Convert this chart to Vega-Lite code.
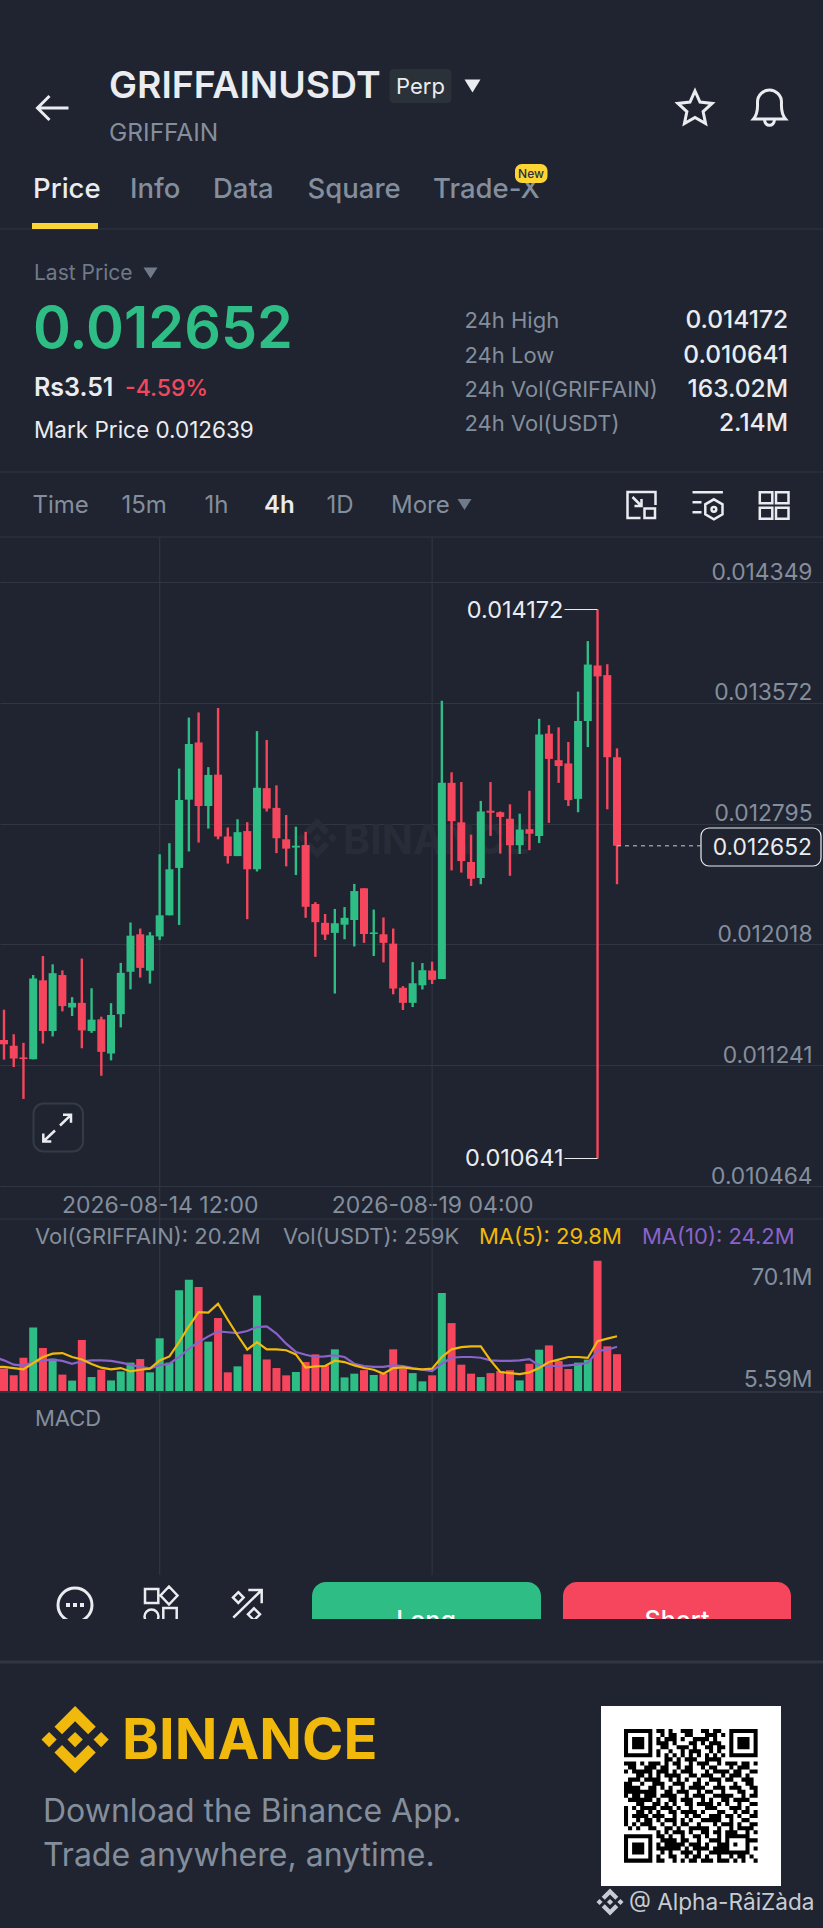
{
  "$schema": "https://vega.github.io/schema/vega-lite/v6.json",
  "width": 823,
  "height": 1928,
  "autosize": {"type": "none"},
  "padding": 0,
  "background": "#1f2430",
  "config": {
    "view": {"stroke": null},
    "axis": {"disable": true},
    "text": {"font": "Inter", "align": "left", "baseline": "alphabetic"}
  },
  "datasets": {
    "candles": [
      {"t":"2026-08-11T16:00:00Z","o":0.011403,"h":0.011598,"l":0.011277,"c":0.011376,"v":10.0,"ma5":13.4,"ma10":18.7},
      {"t":"2026-08-11T20:00:00Z","o":0.011403,"h":0.011598,"l":0.011277,"c":0.011376,"v":12.5,"ma5":13.4,"ma10":16.9},
      {"t":"2026-08-12T00:00:00Z","o":0.011366,"h":0.01144,"l":0.011229,"c":0.011284,"v":8.9,"ma5":12.8,"ma10":14.6},
      {"t":"2026-08-12T04:00:00Z","o":0.011291,"h":0.011385,"l":0.011024,"c":0.011281,"v":18.3,"ma5":12.1,"ma10":14.1},
      {"t":"2026-08-12T08:00:00Z","o":0.011279,"h":0.011821,"l":0.011279,"c":0.011798,"v":34.5,"ma5":15.5,"ma10":16.0},
      {"t":"2026-08-12T12:00:00Z","o":0.011787,"h":0.011943,"l":0.01138,"c":0.011461,"v":23.5,"ma5":18.7,"ma10":16.9},
      {"t":"2026-08-12T16:00:00Z","o":0.011461,"h":0.01189,"l":0.011426,"c":0.011833,"v":17.8,"ma5":20.5,"ma10":17.3},
      {"t":"2026-08-12T20:00:00Z","o":0.011821,"h":0.011851,"l":0.011587,"c":0.011621,"v":9.3,"ma5":20.8,"ma10":16.6},
      {"t":"2026-08-13T00:00:00Z","o":0.011612,"h":0.011679,"l":0.011557,"c":0.011642,"v":6.1,"ma5":18.7,"ma10":15.1},
      {"t":"2026-08-13T04:00:00Z","o":0.011642,"h":0.011927,"l":0.01135,"c":0.011465,"v":27.8,"ma5":17.4,"ma10":16.4},
      {"t":"2026-08-13T08:00:00Z","o":0.011461,"h":0.011736,"l":0.011449,"c":0.011534,"v":8.0,"ma5":15.0,"ma10":16.9},
      {"t":"2026-08-13T12:00:00Z","o":0.011536,"h":0.011553,"l":0.011173,"c":0.011327,"v":11.9,"ma5":13.0,"ma10":16.9},
      {"t":"2026-08-13T16:00:00Z","o":0.011316,"h":0.01164,"l":0.011272,"c":0.011564,"v":6.2,"ma5":12.1,"ma10":16.6},
      {"t":"2026-08-13T20:00:00Z","o":0.011569,"h":0.011899,"l":0.011484,"c":0.011835,"v":11.0,"ma5":12.8,"ma10":15.7},
      {"t":"2026-08-14T00:00:00Z","o":0.011842,"h":0.012159,"l":0.011729,"c":0.012074,"v":15.7,"ma5":11.0,"ma10":14.6},
      {"t":"2026-08-14T04:00:00Z","o":0.012083,"h":0.01212,"l":0.011805,"c":0.011867,"v":17.6,"ma5":11.9,"ma10":13.4},
      {"t":"2026-08-14T08:00:00Z","o":0.011849,"h":0.012097,"l":0.011766,"c":0.012076,"v":10.5,"ma5":12.5,"ma10":12.6},
      {"t":"2026-08-14T12:00:00Z","o":0.012069,"h":0.012598,"l":0.012046,"c":0.012205,"v":28.7,"ma5":16.9,"ma10":14.2},
      {"t":"2026-08-14T16:00:00Z","o":0.012205,"h":0.012669,"l":0.012205,"c":0.012501,"v":15.7,"ma5":19.0,"ma10":15.1},
      {"t":"2026-08-14T20:00:00Z","o":0.01251,"h":0.013149,"l":0.012143,"c":0.012947,"v":54.3,"ma5":26.7,"ma10":18.7},
      {"t":"2026-08-15T00:00:00Z","o":0.012949,"h":0.013477,"l":0.012616,"c":0.013307,"v":60.0,"ma5":35.1,"ma10":23.1},
      {"t":"2026-08-15T04:00:00Z","o":0.013317,"h":0.01351,"l":0.012673,"c":0.012908,"v":56.1,"ma5":42.7,"ma10":26.7},
      {"t":"2026-08-15T08:00:00Z","o":0.012908,"h":0.013158,"l":0.012763,"c":0.013108,"v":26.9,"ma5":42.4,"ma10":29.7},
      {"t":"2026-08-15T12:00:00Z","o":0.01311,"h":0.013539,"l":0.012694,"c":0.012712,"v":39.5,"ma5":47.2,"ma10":32.4},
      {"t":"2026-08-15T16:00:00Z","o":0.012712,"h":0.01277,"l":0.012538,"c":0.012586,"v":10.5,"ma5":38.6,"ma10":31.9},
      {"t":"2026-08-15T20:00:00Z","o":0.012586,"h":0.012823,"l":0.012586,"c":0.01274,"v":13.7,"ma5":30.3,"ma10":31.5},
      {"t":"2026-08-16T00:00:00Z","o":0.012747,"h":0.012804,"l":0.01218,"c":0.012501,"v":20.1,"ma5":22.6,"ma10":32.6},
      {"t":"2026-08-16T04:00:00Z","o":0.012501,"h":0.01339,"l":0.012487,"c":0.013025,"v":51.6,"ma5":26.7,"ma10":34.7},
      {"t":"2026-08-16T08:00:00Z","o":0.013023,"h":0.013333,"l":0.012873,"c":0.012892,"v":17.4,"ma5":22.8,"ma10":35.1},
      {"t":"2026-08-16T12:00:00Z","o":0.012896,"h":0.013041,"l":0.012605,"c":0.012701,"v":12.8,"ma5":22.8,"ma10":31.2},
      {"t":"2026-08-16T16:00:00Z","o":0.012694,"h":0.01285,"l":0.01252,"c":0.012634,"v":8.9,"ma5":22.3,"ma10":25.8},
      {"t":"2026-08-16T20:00:00Z","o":0.012641,"h":0.012775,"l":0.012464,"c":0.012653,"v":10.7,"ma5":20.1,"ma10":21.4},
      {"t":"2026-08-17T00:00:00Z","o":0.012657,"h":0.012742,"l":0.012189,"c":0.01226,"v":16.0,"ma5":13.0,"ma10":19.9},
      {"t":"2026-08-17T04:00:00Z","o":0.012278,"h":0.01229,"l":0.011938,"c":0.012161,"v":20.1,"ma5":13.7,"ma10":18.7},
      {"t":"2026-08-17T08:00:00Z","o":0.012157,"h":0.012214,"l":0.012046,"c":0.012081,"v":14.2,"ma5":13.9,"ma10":19.0},
      {"t":"2026-08-17T12:00:00Z","o":0.012092,"h":0.012246,"l":0.011702,"c":0.012154,"v":22.8,"ma5":16.7,"ma10":19.6},
      {"t":"2026-08-17T16:00:00Z","o":0.012145,"h":0.012258,"l":0.012051,"c":0.012189,"v":7.8,"ma5":16.0,"ma10":18.7},
      {"t":"2026-08-17T20:00:00Z","o":0.012175,"h":0.012407,"l":0.012005,"c":0.012361,"v":9.8,"ma5":14.2,"ma10":15.1},
      {"t":"2026-08-18T00:00:00Z","o":0.012379,"h":0.012379,"l":0.012028,"c":0.012085,"v":11.7,"ma5":12.8,"ma10":13.9},
      {"t":"2026-08-18T04:00:00Z","o":0.012085,"h":0.012242,"l":0.011943,"c":0.012095,"v":9.1,"ma5":11.9,"ma10":13.4},
      {"t":"2026-08-18T08:00:00Z","o":0.012083,"h":0.012191,"l":0.011902,"c":0.012028,"v":9.8,"ma5":9.8,"ma10":13.4},
      {"t":"2026-08-18T12:00:00Z","o":0.012023,"h":0.01212,"l":0.011697,"c":0.011734,"v":22.8,"ma5":12.8,"ma10":14.2},
      {"t":"2026-08-18T16:00:00Z","o":0.011739,"h":0.01175,"l":0.011596,"c":0.011642,"v":12.5,"ma5":13.2,"ma10":13.9},
      {"t":"2026-08-18T20:00:00Z","o":0.011642,"h":0.011904,"l":0.011615,"c":0.011768,"v":10.1,"ma5":12.5,"ma10":12.8},
      {"t":"2026-08-19T00:00:00Z","o":0.011755,"h":0.011898,"l":0.011728,"c":0.011852,"v":5.7,"ma5":12.1,"ma10":11.9},
      {"t":"2026-08-19T04:00:00Z","o":0.01185,"h":0.011907,"l":0.011763,"c":0.01179,"v":8.9,"ma5":12.5,"ma10":11.2},
      {"t":"2026-08-19T08:00:00Z","o":0.011796,"h":0.013585,"l":0.011796,"c":0.013057,"v":52.9,"ma5":18.7,"ma10":15.1},
      {"t":"2026-08-19T12:00:00Z","o":0.013057,"h":0.013125,"l":0.012494,"c":0.012811,"v":36.8,"ma5":22.8,"ma10":18.3},
      {"t":"2026-08-19T16:00:00Z","o":0.012803,"h":0.013062,"l":0.01248,"c":0.012554,"v":14.6,"ma5":24.0,"ma10":18.7},
      {"t":"2026-08-19T20:00:00Z","o":0.012548,"h":0.012724,"l":0.012394,"c":0.01244,"v":9.8,"ma5":24.4,"ma10":18.7},
      {"t":"2026-08-20T00:00:00Z","o":0.012445,"h":0.012941,"l":0.012405,"c":0.012873,"v":8.0,"ma5":24.4,"ma10":18.3},
      {"t":"2026-08-20T04:00:00Z","o":0.012878,"h":0.013062,"l":0.012716,"c":0.012865,"v":10.1,"ma5":16.9,"ma10":16.9},
      {"t":"2026-08-20T08:00:00Z","o":0.012868,"h":0.012873,"l":0.012602,"c":0.012838,"v":11.2,"ma5":10.7,"ma10":16.6},
      {"t":"2026-08-20T12:00:00Z","o":0.012827,"h":0.012919,"l":0.012459,"c":0.012656,"v":11.6,"ma5":10.1,"ma10":16.6},
      {"t":"2026-08-20T16:00:00Z","o":0.012656,"h":0.012859,"l":0.0126,"c":0.012757,"v":6.2,"ma5":9.6,"ma10":16.9},
      {"t":"2026-08-20T20:00:00Z","o":0.012759,"h":0.013006,"l":0.012624,"c":0.01273,"v":15.1,"ma5":10.5,"ma10":17.6},
      {"t":"2026-08-21T00:00:00Z","o":0.012716,"h":0.013469,"l":0.01267,"c":0.013368,"v":22.6,"ma5":12.8,"ma10":14.2},
      {"t":"2026-08-21T04:00:00Z","o":0.013374,"h":0.013428,"l":0.0128,"c":0.013211,"v":24.9,"ma5":16.0,"ma10":13.9},
      {"t":"2026-08-21T08:00:00Z","o":0.013203,"h":0.013414,"l":0.013057,"c":0.013165,"v":16.6,"ma5":17.3,"ma10":13.9},
      {"t":"2026-08-21T12:00:00Z","o":0.013182,"h":0.01332,"l":0.012908,"c":0.012946,"v":12.3,"ma5":18.7,"ma10":14.2},
      {"t":"2026-08-21T16:00:00Z","o":0.012954,"h":0.013644,"l":0.012868,"c":0.013455,"v":15.7,"ma5":18.7,"ma10":14.8},
      {"t":"2026-08-21T20:00:00Z","o":0.013455,"h":0.013969,"l":0.013287,"c":0.013818,"v":17.3,"ma5":18.2,"ma10":15.5},
      {"t":"2026-08-22T00:00:00Z","o":0.013812,"h":0.014172,"l":0.010641,"c":0.013742,"v":70.1,"ma5":27.2,"ma10":21.9},
      {"t":"2026-08-22T04:00:00Z","o":0.01375,"h":0.01382,"l":0.012887,"c":0.013222,"v":24.4,"ma5":28.5,"ma10":22.6},
      {"t":"2026-08-22T08:00:00Z","o":0.013222,"h":0.013279,"l":0.012405,"c":0.012652,"v":20.2,"ma5":29.8,"ma10":24.2}
    ],
    "extremes": [
      {"from":"2026-08-21T10:24:00Z","to":"2026-08-22T00:00:00Z","price":0.014172,"label":"0.014172"},
      {"from":"2026-08-21T10:24:00Z","to":"2026-08-22T00:00:00Z","price":0.010641,"label":"0.010641"}
    ],
    "last": [
      {"from":"2026-08-22T08:00:00Z","to":"2026-08-23T18:31:00Z","price":0.012652}
    ],
    "vlines": [
      {"t":"2026-08-14T12:00:00Z"},
      {"t":"2026-08-19T04:00:00Z"}
    ]
  },
  "resolve": {
    "scale": {"x": "independent", "y": "independent"},
    "axis": {"x": "independent", "y": "independent"}
  },
  "layer": [
    {
      "data": {"name": "vlines"},
      "mark": {"type": "rule", "color": "#2f3541", "strokeWidth": 1.2},
      "encoding": {
        "x": {"field": "t", "type": "temporal", "scale": {"type": "utc", "domain": ["2026-08-11T18:21:22Z", "2026-08-25T20:41:00Z"]}},
        "y": {"datum": 537, "type": "quantitative", "scale": {"domain": [0, 1928], "reverse": true, "nice": false}},
        "y2": {"datum": 1575}
      }
    },
    {
      "data": {"name": "candles"},
      "mark": {"type": "rule", "opacity": 0},
      "encoding": {
        "y": {
          "field": "h",
          "type": "quantitative",
          "scale": {"domain": [0.0056914, 0.0180925], "nice": false},
          "axis": {
            "disable": false,
            "orient": "right",
            "title": null,
            "values": [0.014349, 0.013572, 0.012795, 0.012018, 0.011241, 0.010464],
            "format": ".6f",
            "labelFont": "Inter",
            "labelFontSize": 22.8,
            "labelColor": "#848e9c",
            "labelAlign": "right",
            "labelBaseline": "alphabetic",
            "labelPadding": -11,
            "labelOffset": -3,
            "labelOverlap": false,
            "labelBound": false,
            "labelFlush": false,
            "domain": false,
            "ticks": false,
            "tickSize": 0,
            "grid": true,
            "gridColor": "#2f3541",
            "gridWidth": 1.2
          }
        }
      }
    },
    {
      "data": {"name": "candles"},
      "mark": {"type": "rule", "opacity": 0},
      "encoding": {
        "y": {
          "field": "v",
          "type": "quantitative",
          "scale": {"domain": [-286.2, 743.3], "nice": false},
          "axis": {
            "disable": false,
            "orient": "right",
            "title": null,
            "values": [70.1, 5.59],
            "labelExpr": "datum.value > 50 ? '70.1M' : '5.59M'",
            "labelFont": "Inter",
            "labelFontSize": 23,
            "labelColor": "#848e9c",
            "labelAlign": "right",
            "labelBaseline": "alphabetic",
            "labelPadding": -11,
            "labelOffset": {"condition": {"test": "datum.value > 50", "value": 24}, "value": 4.5},
            "labelOverlap": false,
            "labelBound": false,
            "labelFlush": false,
            "domain": false,
            "ticks": false,
            "tickSize": 0,
            "grid": false
          }
        }
      }
    },
    {
      "data": {"values": [{}]},
      "layer": [
        {"mark": {"type": "rule", "color": "#2b303b", "strokeWidth": 1.5}, "encoding": {
          "x": {"datum": 0, "type": "quantitative", "scale": {"domain": [0, 823], "nice": false}},
          "x2": {"datum": 823},
          "y": {"datum": 229, "type": "quantitative", "scale": {"domain": [0, 1928], "reverse": true, "nice": false}}}},
        {"mark": {"type": "rule", "color": "#2b303b", "strokeWidth": 1.5}, "encoding": {"x": {"datum": 0}, "x2": {"datum": 823}, "y": {"datum": 472}}},
        {"mark": {"type": "rule", "color": "#2b303b", "strokeWidth": 1.5}, "encoding": {"x": {"datum": 0}, "x2": {"datum": 823}, "y": {"datum": 537}}},
        {"mark": {"type": "rule", "color": "#2f3541", "strokeWidth": 1.2}, "encoding": {"x": {"datum": 0}, "x2": {"datum": 823}, "y": {"datum": 1219}}},

        {"mark": {"type": "point", "shape": "M16 0H-15M-3 -12L-15 0L-3 12", "size": 4, "filled": false, "stroke": "#eaecef", "strokeWidth": 3, "opacity": 1}, "encoding": {"x": {"datum": 52.5}, "y": {"datum": 108}}},
        {"mark": {"type": "text", "fontSize": 37.4, "fontWeight": 600, "color": "#eaecef"}, "encoding": {"x": {"datum": 109}, "y": {"datum": 98}, "text": {"datum": "GRIFFAINUSDT"}}},
        {"mark": {"type": "rect", "fill": "#2b3139", "cornerRadius": 4}, "encoding": {"x": {"datum": 389.5}, "x2": {"datum": 451.5}, "y": {"datum": 69}, "y2": {"datum": 103}}},
        {"mark": {"type": "text", "fontSize": 22, "color": "#eaecef", "align": "center"}, "encoding": {"x": {"datum": 420.5}, "y": {"datum": 94}, "text": {"datum": "Perp"}}},
        {"mark": {"type": "point", "shape": "M-8 -6H8L0 7Z", "size": 4, "filled": true, "color": "#eaecef", "opacity": 1}, "encoding": {"x": {"datum": 472.5}, "y": {"datum": 85.5}}},
        {"mark": {"type": "text", "fontSize": 24.5, "color": "#848e9c"}, "encoding": {"x": {"datum": 109}, "y": {"datum": 140.5}, "text": {"datum": "GRIFFAIN"}}},
        {"mark": {"type": "point", "shape": "M0 -18L5 -6.9L17.1 -5.6L8.1 2.6L10.6 14.6L0 8.5L-10.6 14.6L-8.1 2.6L-17.1 -5.6L-5 -6.9Z", "size": 4, "filled": false, "stroke": "#eaecef", "strokeWidth": 3, "opacity": 1}, "encoding": {"x": {"datum": 695}, "y": {"datum": 109}}},
        {"mark": {"type": "point", "shape": "M-16 12C-11 6 -12 0 -12 -5C-12 -12 -6 -17 0 -17C6 -17 12 -12 12 -5C12 0 11 6 16 12ZM-5 13C-4 20 4 20 5 13", "size": 4, "filled": false, "stroke": "#eaecef", "strokeWidth": 3, "opacity": 1}, "encoding": {"x": {"datum": 769.5}, "y": {"datum": 107}}},

        {"mark": {"type": "text", "fontSize": 27.5, "fontWeight": 500, "color": "#eaecef"}, "encoding": {"x": {"datum": 33}, "y": {"datum": 197.5}, "text": {"datum": "Price"}}},
        {"mark": {"type": "text", "fontSize": 27.5, "fontWeight": 500, "color": "#848e9c"}, "encoding": {"x": {"datum": 130}, "y": {"datum": 197.5}, "text": {"datum": "Info"}}},
        {"mark": {"type": "text", "fontSize": 27.5, "fontWeight": 500, "color": "#848e9c"}, "encoding": {"x": {"datum": 213}, "y": {"datum": 197.5}, "text": {"datum": "Data"}}},
        {"mark": {"type": "text", "fontSize": 27.5, "fontWeight": 500, "color": "#848e9c"}, "encoding": {"x": {"datum": 307.5}, "y": {"datum": 197.5}, "text": {"datum": "Square"}}},
        {"mark": {"type": "text", "fontSize": 27.5, "fontWeight": 500, "color": "#848e9c"}, "encoding": {"x": {"datum": 433}, "y": {"datum": 197.5}, "text": {"datum": "Trade-X"}}},
        {"mark": {"type": "rect", "fill": "#fcd535", "cornerRadius": 7}, "encoding": {"x": {"datum": 515}, "x2": {"datum": 547.5}, "y": {"datum": 164}, "y2": {"datum": 183}}},
        {"mark": {"type": "text", "fontSize": 12, "fontWeight": 500, "color": "#2b2f36", "align": "center"}, "encoding": {"x": {"datum": 531}, "y": {"datum": 178}, "text": {"datum": "New"}}},
        {"mark": {"type": "rect", "fill": "#fcd535"}, "encoding": {"x": {"datum": 32}, "x2": {"datum": 98}, "y": {"datum": 223}, "y2": {"datum": 229}}},

        {"mark": {"type": "text", "fontSize": 21, "color": "#707a8a"}, "encoding": {"x": {"datum": 34}, "y": {"datum": 280}, "text": {"datum": "Last Price"}}},
        {"mark": {"type": "point", "shape": "M-7 -5H7L0 6Z", "size": 4, "filled": true, "color": "#707a8a", "opacity": 1}, "encoding": {"x": {"datum": 150.5}, "y": {"datum": 272.5}}},
        {"mark": {"type": "text", "fontSize": 57.5, "fontWeight": 600, "color": "#2ebd85"}, "encoding": {"x": {"datum": 33}, "y": {"datum": 348}, "text": {"datum": "0.012652"}}},
        {"mark": {"type": "text", "fontSize": 25, "fontWeight": 600, "color": "#eaecef"}, "encoding": {"x": {"datum": 34}, "y": {"datum": 396}, "text": {"datum": "Rs3.51"}}},
        {"mark": {"type": "text", "fontSize": 23, "fontWeight": 500, "color": "#f6465d"}, "encoding": {"x": {"datum": 125}, "y": {"datum": 396}, "text": {"datum": "-4.59%"}}},
        {"mark": {"type": "text", "fontSize": 22.5, "color": "#eaecef"}, "encoding": {"x": {"datum": 34}, "y": {"datum": 437.5}, "text": {"datum": "Mark Price 0.012639"}}},

        {"mark": {"type": "text", "fontSize": 22, "color": "#848e9c"}, "encoding": {"x": {"datum": 464.5}, "y": {"datum": 328}, "text": {"datum": "24h High"}}},
        {"mark": {"type": "text", "fontSize": 22, "color": "#848e9c"}, "encoding": {"x": {"datum": 464.5}, "y": {"datum": 362.5}, "text": {"datum": "24h Low"}}},
        {"mark": {"type": "text", "fontSize": 22, "color": "#848e9c"}, "encoding": {"x": {"datum": 464.5}, "y": {"datum": 397}, "text": {"datum": "24h Vol(GRIFFAIN)"}}},
        {"mark": {"type": "text", "fontSize": 22, "color": "#848e9c"}, "encoding": {"x": {"datum": 464.5}, "y": {"datum": 431}, "text": {"datum": "24h Vol(USDT)"}}},
        {"mark": {"type": "text", "fontSize": 24.5, "fontWeight": 500, "color": "#eaecef", "align": "right"}, "encoding": {"x": {"datum": 788}, "y": {"datum": 328}, "text": {"datum": "0.014172"}}},
        {"mark": {"type": "text", "fontSize": 24.5, "fontWeight": 500, "color": "#eaecef", "align": "right"}, "encoding": {"x": {"datum": 788}, "y": {"datum": 362.5}, "text": {"datum": "0.010641"}}},
        {"mark": {"type": "text", "fontSize": 24.5, "fontWeight": 500, "color": "#eaecef", "align": "right"}, "encoding": {"x": {"datum": 788}, "y": {"datum": 397}, "text": {"datum": "163.02M"}}},
        {"mark": {"type": "text", "fontSize": 24.5, "fontWeight": 500, "color": "#eaecef", "align": "right"}, "encoding": {"x": {"datum": 788}, "y": {"datum": 431}, "text": {"datum": "2.14M"}}},

        {"mark": {"type": "text", "fontSize": 24, "color": "#848e9c"}, "encoding": {"x": {"datum": 32.5}, "y": {"datum": 513}, "text": {"datum": "Time"}}},
        {"mark": {"type": "text", "fontSize": 24, "color": "#848e9c"}, "encoding": {"x": {"datum": 121.5}, "y": {"datum": 513}, "text": {"datum": "15m"}}},
        {"mark": {"type": "text", "fontSize": 24, "color": "#848e9c"}, "encoding": {"x": {"datum": 204.5}, "y": {"datum": 513}, "text": {"datum": "1h"}}},
        {"mark": {"type": "text", "fontSize": 24, "fontWeight": 600, "color": "#eaecef"}, "encoding": {"x": {"datum": 264}, "y": {"datum": 513}, "text": {"datum": "4h"}}},
        {"mark": {"type": "text", "fontSize": 24, "color": "#848e9c"}, "encoding": {"x": {"datum": 326.5}, "y": {"datum": 513}, "text": {"datum": "1D"}}},
        {"mark": {"type": "text", "fontSize": 24, "color": "#848e9c"}, "encoding": {"x": {"datum": 391}, "y": {"datum": 513}, "text": {"datum": "More"}}},
        {"mark": {"type": "point", "shape": "M-7 -5H7L0 6Z", "size": 4, "filled": true, "color": "#707a8a", "opacity": 1}, "encoding": {"x": {"datum": 464.5}, "y": {"datum": 504}}},
        {"mark": {"type": "point", "shape": "M-1 13H-14V-13H14V0M3 3.5H13.5V13H3ZM-9 -8L0 1M0 -6V1H-7", "size": 4, "filled": false, "stroke": "#eaecef", "strokeWidth": 2.5, "opacity": 1}, "encoding": {"x": {"datum": 641.5}, "y": {"datum": 505}}},
        {"mark": {"type": "point", "shape": "M-15 -12.7H15.4M-15 -2.7H-6M-15 7.3H-6M6.4 -5.7L15 -0.7V9.3L6.4 14.3L-2.2 9.3V-0.7ZM4 4.3a2.4 2.4 0 1 0 4.8 0a2.4 2.4 0 1 0 -4.8 0", "size": 4, "filled": false, "stroke": "#eaecef", "strokeWidth": 2.5, "opacity": 1}, "encoding": {"x": {"datum": 707.5}, "y": {"datum": 505}}},
        {"mark": {"type": "point", "shape": "M-13.7 -12.7h12.5v11h-12.5zM2.5 -12.7h12.5v11h-12.5zM-13.7 2.7h12.5v11h-12.5zM2.5 2.7h12.5v11h-12.5z", "size": 4, "filled": false, "stroke": "#eaecef", "strokeWidth": 2.5, "opacity": 1}, "encoding": {"x": {"datum": 773.5}, "y": {"datum": 505}}},

        {"mark": {"type": "point", "shape": "M38.73 53.2l24.59-24.58 24.6 24.6 14.3-14.31L63.32 0 24.43 38.9zM0 63.31l14.3-14.31 14.31 14.31-14.31 14.3zM38.73 73.41l24.59 24.59 24.6-24.6 14.31 14.29-38.9 38.91-38.91-38.88-.02-.02zM98.03 63.31l14.3-14.3 14.31 14.3-14.31 14.31zM77.83 63.3L63.32 48.78 52.59 59.51l-1.24 1.23-2.54 2.54 14.51 14.5 14.51-14.47z", "size": 0.4, "filled": true, "color": "#272c38", "opacity": 1}, "encoding": {"x": {"datum": 297}, "y": {"datum": 818}}},
        {"mark": {"type": "text", "fontSize": 41, "fontWeight": 700, "color": "#272c38"}, "encoding": {"x": {"datum": 343}, "y": {"datum": 854}, "text": {"datum": "BINANCE"}}},

        {"mark": {"type": "rect", "fill": "#1f2430", "stroke": "#eaecef", "strokeWidth": 1.2, "cornerRadius": 8}, "encoding": {"x": {"datum": 701}, "x2": {"datum": 821}, "y": {"datum": 828}, "y2": {"datum": 866}}},
        {"mark": {"type": "text", "fontSize": 22.8, "color": "#eaecef", "align": "right"}, "encoding": {"x": {"datum": 812}, "y": {"datum": 855}, "text": {"datum": "0.012652"}}},
        {"mark": {"type": "rect", "stroke": "#353b46", "strokeWidth": 2, "fillOpacity": 0, "cornerRadius": 10}, "encoding": {"x": {"datum": 33.5}, "x2": {"datum": 83}, "y": {"datum": 1103.5}, "y2": {"datum": 1151.5}}},
        {"mark": {"type": "point", "shape": "M2 -2L13 -12.7M5 -12.7H13V-4.7M-14.7 14L-3 3M-14.7 6V14H-6.7", "size": 4, "filled": false, "stroke": "#eaecef", "strokeWidth": 2.5, "opacity": 1}, "encoding": {"x": {"datum": 58}, "y": {"datum": 1127.5}}},

        {"mark": {"type": "text", "fontSize": 22, "color": "#848e9c"}, "encoding": {"x": {"datum": 35}, "y": {"datum": 1244}, "text": {"datum": "Vol(GRIFFAIN): 20.2M"}}},
        {"mark": {"type": "text", "fontSize": 22, "color": "#848e9c"}, "encoding": {"x": {"datum": 283}, "y": {"datum": 1244}, "text": {"datum": "Vol(USDT): 259K"}}},
        {"mark": {"type": "text", "fontSize": 22, "color": "#f0b90b"}, "encoding": {"x": {"datum": 479}, "y": {"datum": 1244}, "text": {"datum": "MA(5): 29.8M"}}},
        {"mark": {"type": "text", "fontSize": 22, "color": "#8a63c9"}, "encoding": {"x": {"datum": 642}, "y": {"datum": 1244}, "text": {"datum": "MA(10): 24.2M"}}},
        {"mark": {"type": "text", "fontSize": 22, "color": "#848e9c"}, "encoding": {"x": {"datum": 35}, "y": {"datum": 1426}, "text": {"datum": "MACD"}}},

        {"mark": {"type": "point", "shape": "M-17 0a17 17 0 1 0 34 0a17 17 0 1 0 -34 0", "size": 4, "filled": false, "stroke": "#eaecef", "strokeWidth": 3, "opacity": 1}, "encoding": {"x": {"datum": 75}, "y": {"datum": 1605}}},
        {"mark": {"type": "point", "shape": "M-9 -2h4v4h-4zM-2 -2h4v4h-4zM5 -2h4v4h-4z", "size": 4, "filled": true, "color": "#eaecef", "opacity": 1}, "encoding": {"x": {"datum": 75}, "y": {"datum": 1605}}},
        {"mark": {"type": "point", "shape": "M-16 -16h13.3v14h-13.3zM8 -18.5L16.5 -9.5L8 -0.5L-0.5 -9.5ZM-2.5 11.5a7 7 0 1 0 -14 0a7 7 0 1 0 14 0M2.3 3h13.4v16h-13.4z", "size": 4, "filled": false, "stroke": "#eaecef", "strokeWidth": 2.5, "opacity": 1}, "encoding": {"x": {"datum": 161}, "y": {"datum": 1605}}},
        {"mark": {"type": "point", "shape": "M-14.7 13.7L13.7 -14M0.3 -14H13.7V-0.7M-9.7 -11.8L-4.4 -6.4L-9.7 -1L-15 -6.4ZM6 4.3L12 10.3L6 16.3L0 10.3Z", "size": 4, "filled": false, "stroke": "#eaecef", "strokeWidth": 2.5, "opacity": 1}, "encoding": {"x": {"datum": 248}, "y": {"datum": 1604}}},
        {"mark": {"type": "rect", "fill": "#2ebd85", "cornerRadiusTopLeft": 14, "cornerRadiusTopRight": 14}, "encoding": {"x": {"datum": 312}, "x2": {"datum": 541}, "y": {"datum": 1582}, "y2": {"datum": 1640}}},
        {"mark": {"type": "rect", "fill": "#f6465d", "cornerRadiusTopLeft": 14, "cornerRadiusTopRight": 14}, "encoding": {"x": {"datum": 563}, "x2": {"datum": 791}, "y": {"datum": 1582}, "y2": {"datum": 1640}}},
        {"mark": {"type": "text", "fontSize": 25, "fontWeight": 500, "color": "#ffffff", "align": "center"}, "encoding": {"x": {"datum": 426}, "y": {"datum": 1629}, "text": {"datum": "Long"}}},
        {"mark": {"type": "text", "fontSize": 25, "fontWeight": 500, "color": "#ffffff", "align": "center"}, "encoding": {"x": {"datum": 677}, "y": {"datum": 1629}, "text": {"datum": "Short"}}},
        {"mark": {"type": "rect", "fill": "#1f2430"}, "encoding": {"x": {"datum": 0}, "x2": {"datum": 823}, "y": {"datum": 1619}, "y2": {"datum": 1660}}},
        {"mark": {"type": "rule", "color": "#2f3640", "strokeWidth": 3}, "encoding": {"x": {"datum": 0}, "x2": {"datum": 823}, "y": {"datum": 1662}}},

        {"mark": {"type": "point", "shape": "M38.73 53.2l24.59-24.58 24.6 24.6 14.3-14.31L63.32 0 24.43 38.9zM0 63.31l14.3-14.31 14.31 14.31-14.31 14.3zM38.73 73.41l24.59 24.59 24.6-24.6 14.31 14.29-38.9 38.91-38.91-38.88-.02-.02zM98.03 63.31l14.3-14.3 14.31 14.3-14.31 14.31zM77.83 63.3L63.32 48.78 52.59 59.51l-1.24 1.23-2.54 2.54 14.51 14.5 14.51-14.47z", "size": 1.127, "filled": true, "color": "#f0b90b", "opacity": 1}, "encoding": {"x": {"datum": 41.5}, "y": {"datum": 1706}}},
        {"mark": {"type": "text", "fontSize": 56, "fontWeight": 700, "color": "#f0b90b"}, "encoding": {"x": {"datum": 122}, "y": {"datum": 1759}, "text": {"datum": "BINANCE"}}},
        {"mark": {"type": "text", "fontSize": 32, "color": "#848e9c"}, "encoding": {"x": {"datum": 43}, "y": {"datum": 1822}, "text": {"datum": "Download the Binance App."}}},
        {"mark": {"type": "text", "fontSize": 32, "color": "#848e9c"}, "encoding": {"x": {"datum": 43}, "y": {"datum": 1866}, "text": {"datum": "Trade anywhere, anytime."}}},
        {"mark": {"type": "rect", "fill": "#ffffff"}, "encoding": {"x": {"datum": 601}, "x2": {"datum": 781}, "y": {"datum": 1706}, "y2": {"datum": 1886}}},
        {"mark": {"type": "point", "shape": "M0 0h7v7h-7zM1 1v5h5v-5zM2 2h3v3h-3zM26 0h7v7h-7zM27 1v5h5v-5zM28 2h3v3h-3zM0 26h7v7h-7zM1 27v5h5v-5zM2 28h3v3h-3zM8 0h2v1h-2zM11 0h1v1h-1zM14 0h3v1h-3zM19 0h2v1h-2zM22 0h2v1h-2zM9 1h1v1h-1zM11 1h2v1h-2zM15 1h2v1h-2zM20 1h3v1h-3zM24 1h1v1h-1zM8 2h1v1h-1zM10 2h3v1h-3zM14 2h1v1h-1zM17 2h4v1h-4zM22 2h1v1h-1zM8 3h3v1h-3zM12 3h1v1h-1zM16 3h2v1h-2zM19 3h1v1h-1zM21 3h3v1h-3zM9 4h2v1h-2zM13 4h3v1h-3zM17 4h1v1h-1zM20 4h2v1h-2zM23 4h2v1h-2zM8 5h1v1h-1zM11 5h1v1h-1zM14 5h1v1h-1zM16 5h3v1h-3zM21 5h1v1h-1zM23 5h1v1h-1zM8 6h1v1h-1zM10 6h1v1h-1zM12 6h1v1h-1zM14 6h1v1h-1zM16 6h1v1h-1zM18 6h1v1h-1zM20 6h1v1h-1zM22 6h1v1h-1zM24 6h1v1h-1zM10 7h2v1h-2zM13 7h1v1h-1zM15 7h3v1h-3zM20 7h4v1h-4zM0 8h3v1h-3zM4 8h1v1h-1zM6 8h3v1h-3zM10 8h1v1h-1zM12 8h2v1h-2zM16 8h1v1h-1zM18 8h3v1h-3zM23 8h1v1h-1zM25 8h3v1h-3zM29 8h2v1h-2zM32 8h1v1h-1zM1 9h2v1h-2zM5 9h3v1h-3zM9 9h2v1h-2zM13 9h1v1h-1zM15 9h2v1h-2zM19 9h1v1h-1zM21 9h2v1h-2zM26 9h1v1h-1zM28 9h3v1h-3zM0 10h1v1h-1zM2 10h5v1h-5zM8 10h3v1h-3zM12 10h1v1h-1zM14 10h3v1h-3zM20 10h1v1h-1zM22 10h4v1h-4zM27 10h2v1h-2zM31 10h2v1h-2zM3 11h2v1h-2zM6 11h1v1h-1zM8 11h1v1h-1zM10 11h4v1h-4zM16 11h2v1h-2zM19 11h3v1h-3zM24 11h1v1h-1zM26 11h3v1h-3zM30 11h1v1h-1zM1 12h3v1h-3zM5 12h4v1h-4zM11 12h1v1h-1zM13 12h1v1h-1zM15 12h1v1h-1zM18 12h1v1h-1zM21 12h3v1h-3zM25 12h2v1h-2zM29 12h3v1h-3zM0 13h2v1h-2zM4 13h1v1h-1zM7 13h3v1h-3zM12 13h3v1h-3zM17 13h2v1h-2zM20 13h1v1h-1zM23 13h1v1h-1zM27 13h1v1h-1zM30 13h2v1h-2zM0 14h4v1h-4zM6 14h2v1h-2zM9 14h1v1h-1zM11 14h1v1h-1zM14 14h1v1h-1zM16 14h4v1h-4zM22 14h3v1h-3zM26 14h3v1h-3zM31 14h2v1h-2zM0 15h8v1h-8zM10 15h2v1h-2zM13 15h3v1h-3zM18 15h1v1h-1zM20 15h2v1h-2zM24 15h1v1h-1zM28 15h2v1h-2zM32 15h1v1h-1zM0 16h1v1h-1zM2 16h2v1h-2zM5 16h3v1h-3zM9 16h4v1h-4zM15 16h1v1h-1zM17 16h3v1h-3zM22 16h5v1h-5zM29 16h1v1h-1zM31 16h2v1h-2zM1 17h6v1h-6zM8 17h1v1h-1zM11 17h2v1h-2zM14 17h3v1h-3zM19 17h1v1h-1zM21 17h1v1h-1zM24 17h2v1h-2zM27 17h4v1h-4zM3 18h2v1h-2zM7 18h2v1h-2zM10 18h1v1h-1zM12 18h1v1h-1zM15 18h2v1h-2zM18 18h4v1h-4zM23 18h1v1h-1zM25 18h1v1h-1zM28 18h1v1h-1zM31 18h2v1h-2zM0 19h1v1h-1zM2 19h1v1h-1zM4 19h4v1h-4zM9 19h3v1h-3zM13 19h1v1h-1zM16 19h1v1h-1zM20 19h3v1h-3zM26 19h3v1h-3zM30 19h1v1h-1zM0 20h1v1h-1zM3 20h2v1h-2zM6 20h1v1h-1zM8 20h1v1h-1zM11 20h2v1h-2zM14 20h4v1h-4zM19 20h1v1h-1zM23 20h2v1h-2zM27 20h1v1h-1zM29 20h2v1h-2zM32 20h1v1h-1zM0 21h1v1h-1zM2 21h4v1h-4zM7 21h3v1h-3zM12 21h1v1h-1zM15 21h1v1h-1zM17 21h2v1h-2zM21 21h3v1h-3zM25 21h2v1h-2zM28 21h1v1h-1zM31 21h2v1h-2zM0 22h1v1h-1zM3 22h1v1h-1zM5 22h2v1h-2zM8 22h1v1h-1zM10 22h3v1h-3zM14 22h1v1h-1zM16 22h1v1h-1zM19 22h5v1h-5zM26 22h1v1h-1zM29 22h2v1h-2zM0 23h1v1h-1zM2 23h1v1h-1zM4 23h3v1h-3zM9 23h1v1h-1zM12 23h1v1h-1zM14 23h2v1h-2zM18 23h1v1h-1zM22 23h1v1h-1zM24 23h3v1h-3zM28 23h1v1h-1zM31 23h2v1h-2zM1 24h1v1h-1zM3 24h1v1h-1zM6 24h2v1h-2zM10 24h2v1h-2zM13 24h1v1h-1zM16 24h5v1h-5zM23 24h1v1h-1zM26 24h1v1h-1zM28 24h4v1h-4zM8 25h1v1h-1zM10 25h1v1h-1zM12 25h3v1h-3zM16 25h1v1h-1zM19 25h2v1h-2zM22 25h2v1h-2zM25 25h3v1h-3zM30 25h1v1h-1zM32 25h1v1h-1zM8 26h2v1h-2zM11 26h1v1h-1zM14 26h1v1h-1zM17 26h2v1h-2zM20 26h1v1h-1zM23 26h1v1h-1zM25 26h6v1h-6zM9 27h4v1h-4zM14 27h2v1h-2zM18 27h1v1h-1zM21 27h3v1h-3zM25 27h1v1h-1zM30 27h3v1h-3zM8 28h1v1h-1zM10 28h5v1h-5zM16 28h3v1h-3zM20 28h1v1h-1zM23 28h2v1h-2zM25 28h1v1h-1zM27 28h1v1h-1zM30 28h1v1h-1zM8 29h6v1h-6zM15 29h1v1h-1zM17 29h4v1h-4zM22 29h3v1h-3zM25 29h1v1h-1zM30 29h1v1h-1zM32 29h1v1h-1zM9 30h1v1h-1zM11 30h1v1h-1zM14 30h3v1h-3zM18 30h1v1h-1zM21 30h4v1h-4zM25 30h6v1h-6zM8 31h1v1h-1zM11 31h2v1h-2zM15 31h1v1h-1zM17 31h2v1h-2zM20 31h1v1h-1zM23 31h1v1h-1zM26 31h1v1h-1zM28 31h2v1h-2zM31 31h1v1h-1zM8 32h2v1h-2zM12 32h1v1h-1zM14 32h1v1h-1zM16 32h2v1h-2zM19 32h3v1h-3zM23 32h3v1h-3zM27 32h1v1h-1zM29 32h1v1h-1zM32 32h1v1h-1z", "size": 65.6, "filled": true, "color": "#000000", "opacity": 1}, "encoding": {"x": {"datum": 624}, "y": {"datum": 1729}}},
        {"mark": {"type": "point", "shape": "M38.73 53.2l24.59-24.58 24.6 24.6 14.3-14.31L63.32 0 24.43 38.9zM0 63.31l14.3-14.31 14.31 14.31-14.31 14.3zM38.73 73.41l24.59 24.59 24.6-24.6 14.31 14.29-38.9 38.91-38.91-38.88-.02-.02zM98.03 63.31l14.3-14.3 14.31 14.3-14.31 14.31zM77.83 63.3L63.32 48.78 52.59 59.51l-1.24 1.23-2.54 2.54 14.51 14.5 14.51-14.47z", "size": 0.182, "filled": true, "color": "#c7ccd4", "opacity": 1}, "encoding": {"x": {"datum": 596.5}, "y": {"datum": 1888.5}}},
        {"mark": {"type": "text", "fontSize": 22.6, "color": "#c7ccd4"}, "encoding": {"x": {"datum": 629}, "y": {"datum": 1910}, "text": {"datum": "@ Alpha-RâiZàda"}}}
      ]
    },
    {
      "data": {"name": "candles"},
      "encoding": {
        "x": {
          "field": "t",
          "type": "temporal",
          "scale": {"type": "utc", "domain": ["2026-08-11T18:21:22Z", "2026-08-25T20:41:00Z"], "nice": false, "padding": 0},
          "axis": {
            "disable": false,
            "orient": "bottom",
            "offset": -723,
            "title": null,
            "values": ["2026-08-14T12:00:00Z", "2026-08-19T04:00:00Z"],
            "format": "%Y-%m-%d %H:%M",
            "labelFont": "Inter",
            "labelFontSize": 23,
            "labelColor": "#848e9c",
            "labelBaseline": "middle",
            "labelPadding": 0,
            "labelLimit": 400,
            "labelFlush": false,
            "labelOverlap": false,
            "labelBound": false,
            "domain": false,
            "ticks": false,
            "tickSize": 0,
            "grid": false
          }
        }
      },
      "layer": [
        {
          "mark": {"type": "rule", "strokeWidth": 2.4, "clip": true},
          "encoding": {
            "y": {"field": "h", "type": "quantitative", "scale": {"domain": [0.0056914, 0.0180925], "nice": false}},
            "y2": {"field": "l"},
            "color": {"condition": {"test": "datum.c>=datum.o", "value": "#2ebd85"}, "value": "#f6465d"}
          }
        },
        {
          "mark": {"type": "bar", "width": 8, "clip": true},
          "encoding": {
            "y": {"field": "o", "type": "quantitative"},
            "y2": {"field": "c"},
            "color": {"condition": {"test": "datum.c>=datum.o", "value": "#2ebd85"}, "value": "#f6465d"}
          }
        },
        {
          "data": {"name": "extremes"},
          "mark": {"type": "rule", "color": "#eaecef", "strokeWidth": 1},
          "encoding": {
            "x": {"field": "from", "type": "temporal"},
            "x2": {"field": "to"},
            "y": {"field": "price", "type": "quantitative"}
          }
        },
        {
          "data": {"name": "extremes"},
          "mark": {"type": "text", "fontSize": 23.5, "color": "#eaecef", "align": "right", "baseline": "middle", "dy": 1, "dx": -1},
          "encoding": {
            "x": {"field": "from", "type": "temporal"},
            "y": {"field": "price", "type": "quantitative"},
            "text": {"field": "label"}
          }
        },
        {
          "data": {"name": "last"},
          "mark": {"type": "rule", "color": "#c7ccd4", "strokeWidth": 1, "strokeDash": [4, 4]},
          "encoding": {
            "x": {"field": "from", "type": "temporal"},
            "x2": {"field": "to"},
            "y": {"field": "price", "type": "quantitative"}
          }
        }
      ]
    },
    {
      "data": {"name": "candles"},
      "encoding": {
        "x": {
          "field": "t",
          "type": "temporal",
          "scale": {"type": "utc", "domain": ["2026-08-11T18:21:22Z", "2026-08-25T20:41:00Z"], "nice": false, "padding": 0}
        }
      },
      "layer": [
        {
          "mark": {"type": "bar", "width": 8, "clip": true},
          "encoding": {
            "y": {"field": "v", "type": "quantitative", "scale": {"domain": [-286.2, 743.3], "nice": false}},
            "color": {"condition": {"test": "datum.c>=datum.o", "value": "#2ebd85"}, "value": "#f6465d"}
          }
        },
        {
          "mark": {"type": "rule", "color": "#2f3541", "strokeWidth": 1.2},
          "encoding": {"x": {"value": 0}, "x2": {"value": 823}, "y": {"datum": 0, "type": "quantitative"}}
        },
        {
          "mark": {"type": "line", "color": "#8a63c9", "strokeWidth": 2.2, "clip": true},
          "encoding": {"y": {"field": "ma10", "type": "quantitative"}}
        },
        {
          "mark": {"type": "line", "color": "#f0b90b", "strokeWidth": 2.2, "clip": true},
          "encoding": {"y": {"field": "ma5", "type": "quantitative"}}
        }
      ]
    }
  ]
}
